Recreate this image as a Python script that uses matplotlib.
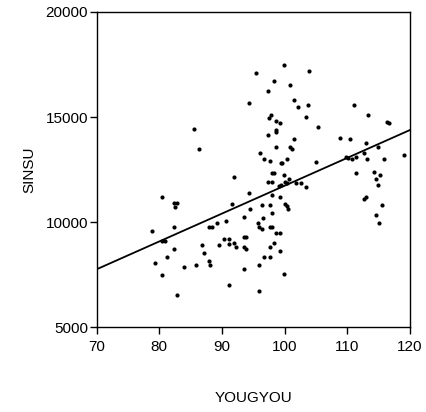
import numpy as np
import matplotlib
matplotlib.use('Agg')
import matplotlib.pyplot as plt

plt.rcParams['font.family'] = ['Liberation Sans', 'DejaVu Sans']

# scatter values
yougyou = [99.9, 95.4, 103.9, 98.3, 100.9, 97.3, 94.3, 101.5, 102.2, 103.8,
           111.1, 97.9, 97.5, 98.6, 99.3, 103.4, 113.3, 116.4, 116.6, 105.3,
           98.6, 98.6, 97.3, 101.5, 108.9, 110.5, 113.0, 98.6, 100.9, 101.2,
           114.9, 96.1, 96.7, 97.7, 100.4, 99.4, 99.6, 105.0, 109.8, 110.1,
           110.8, 111.4, 112.7, 113.2, 115.9, 119.1, 85.5, 86.3,
           98.0, 98.3, 99.9, 97.4, 98.0, 100.1, 100.4, 99.1, 99.5, 100.7,
           101.8, 102.7, 103.4, 111.4, 114.3, 115.3, 114.6, 114.9, 113.0, 112.7,
           115.6, 114.6, 115.1, 91.9, 94.4, 98.0, 99.2, 96.4, 97.6, 100.0,
           100.4, 100.6, 98.0, 96.6, 95.8, 96.0, 96.4, 97.6, 98.0, 98.6,
           99.2, 98.3, 97.6, 99.2, 96.7, 97.6, 96.0, 99.9, 96.0, 94.5,
           93.5, 91.6, 90.6, 89.2, 93.5, 93.9, 93.5, 93.8, 93.5,
           80.4, 82.3, 82.9, 82.6, 82.3, 78.8, 88.0, 88.4, 80.4, 81.0,
           82.3, 86.8, 89.6, 90.3, 91.2, 91.2, 91.9, 92.2, 87.1, 79.4,
           81.3, 83.9, 85.8, 87.9, 88.1, 80.4, 91.2, 82.9]
sinsu = [17480, 17080, 17180, 16700, 16510, 16220, 15650, 15800, 15460, 15560,
         15560, 15080, 14970, 14810, 14700, 14990, 15080, 14780, 14700, 14510,
         14380, 14270, 14130, 13940, 13990, 13940, 13750, 13590, 13590, 13480,
         13560, 13270, 12990, 12920, 12990, 12810, 12810, 12880, 13080, 13030,
         12990, 13100, 13270, 12990, 12990, 13180, 14420, 13460,
         12350, 12350, 12240, 11900, 11920, 11900, 11870, 11710, 11760, 12030,
         11840, 11840, 11650, 12320, 12400, 12230, 12030, 11750, 11200, 11080,
         10800, 10320, 9940, 12130, 11400, 11290, 11180, 10810, 10810, 10860,
         10760, 10600, 10410, 10180, 9950, 9760, 9650, 9750, 9750, 9460,
         9490, 9000, 8800, 8630, 8320, 8320, 7940, 7510, 6710, 10600,
         10220, 10840, 10040, 9940, 9270, 9270, 8800, 8700, 7750,
         11210, 10890, 10890, 10700, 9780, 9560, 9750, 9750, 9080, 9080,
         8700, 8890, 8890, 9180, 9180, 8980, 8990, 8800, 8510, 8030,
         8320, 7840, 7940, 8140, 7940, 7460, 6990, 6510]

# fitted line, ends read at the axis limits
fit_x = [70, 120]
fit_y = [7750, 14380]

x_ticks = [70, 80, 90, 100, 110, 120]
y_ticks = [5000, 10000, 15000, 20000]

fig = plt.figure(figsize=(4.27, 4.12), dpi=100)
ax = fig.add_axes([0.226, 0.206, 0.734, 0.765])

ax.scatter(yougyou, sinsu, s=9, color='black', linewidths=0, zorder=3)
ax.plot(fit_x, fit_y, color='black', linewidth=1.3)

ax.set_xlim(70, 120)
ax.set_ylim(5000, 20000)
ax.set_xticks(x_ticks)
ax.set_yticks(y_ticks)
ax.tick_params(axis='both', direction='out', length=5, width=1.0,
               labelsize=11, colors='black')
ax.tick_params(axis='y', pad=1)
ax.tick_params(axis='x', pad=4)
for sp in ax.spines.values():
    sp.set_linewidth(1.0)
    sp.set_color('black')

ax.set_xlabel('YOUGYOU', fontsize=11, labelpad=27)
ax.set_ylabel('SINSU', fontsize=11, labelpad=7)

fig.savefig('out.png', dpi=100)
